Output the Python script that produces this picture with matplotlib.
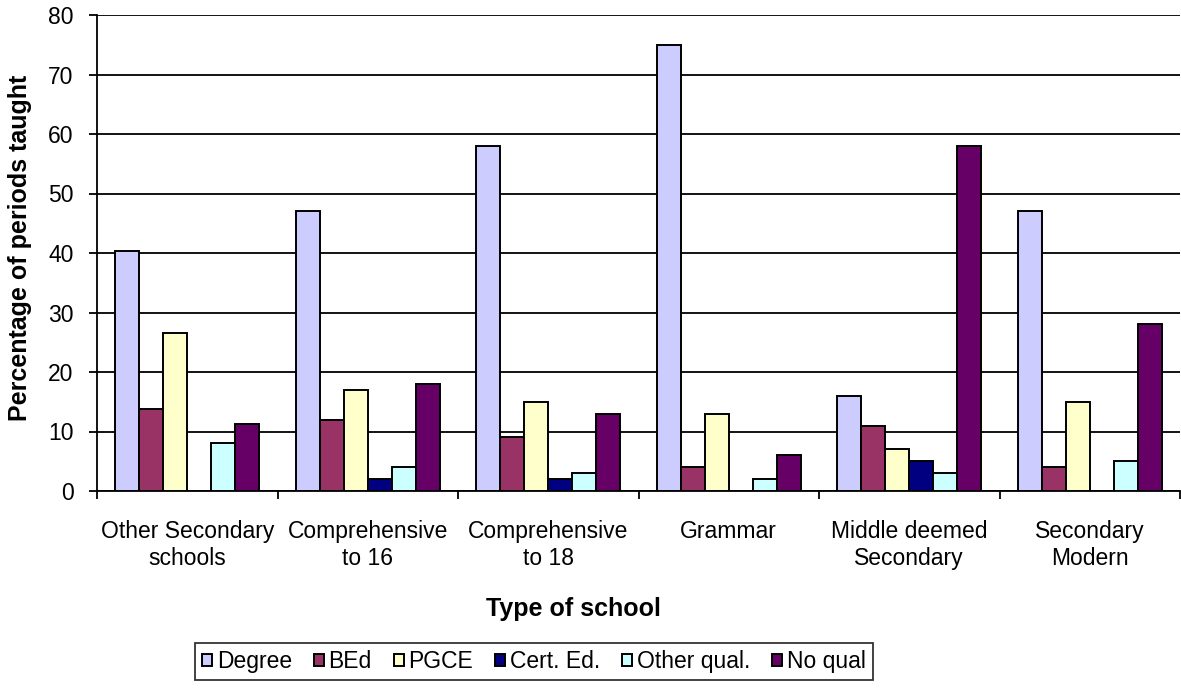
import numpy as np
import matplotlib
matplotlib.use('Agg')
import matplotlib.pyplot as plt

plt.rcParams['font.family'] = ['Liberation Sans', 'DejaVu Sans']

schools = ['Other Secondary\nschools', 'Comprehensive\nto 16', 'Comprehensive\nto 18',
           'Grammar', 'Middle deemed\nSecondary', 'Secondary\nModern']
series = ['Degree', 'BEd', 'PGCE', 'Cert. Ed.', 'Other qual.', 'No qual']
degree = [40.3, 47, 58, 75, 16, 47]
bed = [13.7, 12, 9, 4, 11, 4]
pgce = [26.5, 17, 15, 13, 7, 15]
cert_ed = [0, 2, 2, 0, 5, 0]
other_qual = [8, 4, 3, 2, 3, 5]
no_qual = [11.3, 18, 13, 6, 58, 28]
colors = ['#CCCCFF', '#993366', '#FFFFCC', '#000080', '#CCFFFF', '#660066']

values = [degree, bed, pgce, cert_ed, other_qual, no_qual]

W, H = 1181, 688
fig = plt.figure(figsize=(W / 100, H / 100), dpi=100)
ax = fig.add_axes([97 / W, 1 - 491 / H, (1180 - 97) / W, (491 - 15) / H])

x = np.arange(len(schools))
w = 0.8 / len(series)
for i, (name, vals) in enumerate(zip(series, values)):
    ax.bar(x - 0.4 + w * (i + 0.5), vals, w, color=colors[i], edgecolor='black',
           linewidth=1.4, label=name, zorder=3)

ax.set_xlim(-0.5, len(schools) - 0.5)
ax.set_ylim(0, 80)
ax.set_yticks(range(0, 81, 10))
ax.yaxis.grid(True, color='black', linewidth=1.3, zorder=0)
ax.set_axisbelow(True)

ax.set_xticks(np.arange(-0.5, len(schools)), labels=[])
ax.set_xticks(x, labels=schools, minor=True)
ax.tick_params(axis='x', which='major', length=6, width=1.3, direction='out')
ax.tick_params(axis='x', which='minor', length=0, pad=21, labelsize=16.5)
ax.tick_params(axis='y', length=6, width=1.3, labelsize=16.5, pad=11)
for lbl in ax.get_xticklabels(minor=True):
    lbl.set_verticalalignment('top')

for s in ['top', 'right']:
    ax.spines[s].set_visible(False)
for s in ['left', 'bottom']:
    ax.spines[s].set_linewidth(1.3)

fig.text(20 / W, 1 - 248 / H, 'Percentage of periods taught', rotation=90,
         ha='center', va='center', fontsize=18, fontweight='bold')
fig.text(573 / W, 1 - 609 / H, 'Type of school', ha='center', va='center',
         fontsize=18, fontweight='bold')

leg = fig.legend(loc='upper left', bbox_to_anchor=(195 / W, 1 - 643 / H), ncol=6,
                 fontsize=16.5, frameon=True, fancybox=False, edgecolor='black',
                 handlelength=0.45, handleheight=0.45, handletextpad=0.2,
                 columnspacing=0.95, borderpad=0.3, borderaxespad=0)
leg.get_frame().set_linewidth(1.3)

fig.savefig('out.png', dpi=100)
